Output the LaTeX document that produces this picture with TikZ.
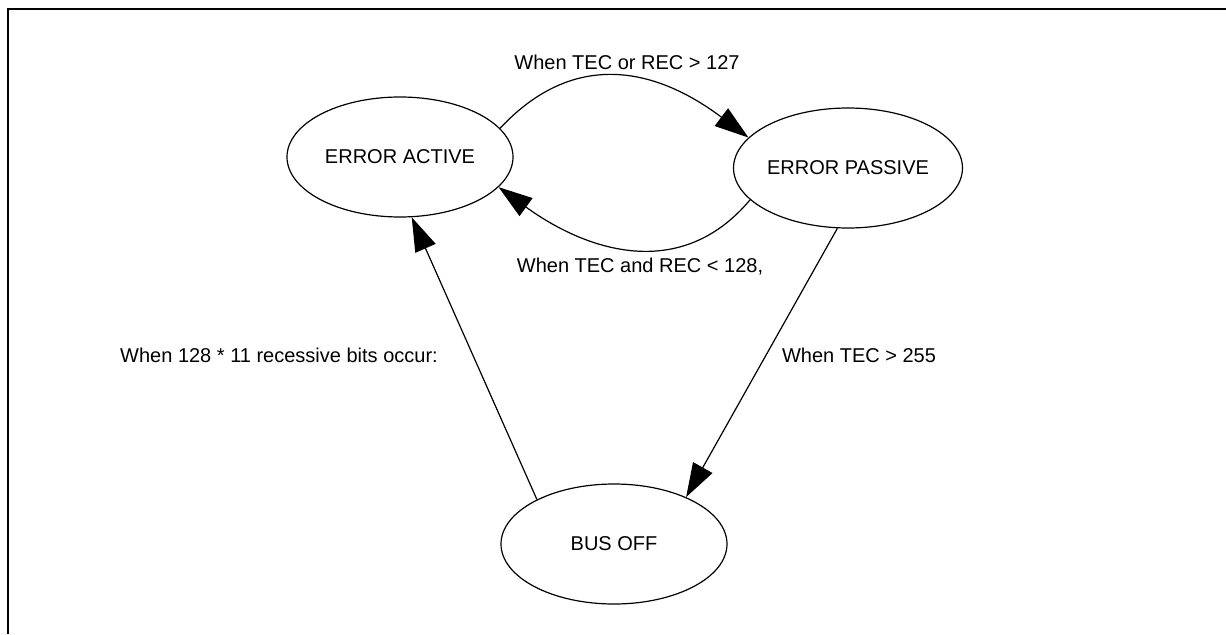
\documentclass[tikz,border=0pt]{standalone}
\usepackage{fontspec}
\setmainfont{Liberation Sans}
\usetikzlibrary{arrows.meta,shapes.geometric}

\begin{document}
\begin{tikzpicture}[x=0.5pt,y=0.5pt,
  state/.style={draw,ellipse,line width=0.6pt,minimum width=113pt,minimum height=60pt,inner sep=0pt,font=\fontsize{10}{12}\selectfont},
  trans/.style={line width=0.6pt,-{Triangle[length=17pt,width=11pt]}},
  lbl/.style={font=\fontsize{10}{12}\selectfont}]
 \useasboundingbox (0,0) rectangle (1226,634);
 \draw[line width=1pt] (8,0) -- (8,625.5) -- (1226,625.5);
 % states
 \node[state] (active) at (400,477) {ERROR ACTIVE};
 \node[state] (passive) at (848,466) {ERROR PASSIVE};
 \node[state] (busoff) at (614,90) {BUS OFF};
 % transitions
 \draw[trans] (active.16) to[out=47,in=143,looseness=1.15] (passive.163);
 \draw[trans] (passive.198) to[out=230,in=-36,looseness=1.1] (active.-17);
 \draw[trans] (passive.-100) -- (busoff.33);
 \draw[trans] (busoff.150) -- (active.-79);
 % labels
 \node[lbl] (up) at (627,572) {When TEC or REC > 127};
 \node[lbl] (down) at (640,367) {When TEC and REC < 128,};
 \node[lbl] (recover) at (279,279) {When 128 * 11 recessive bits occur:};
 \node[lbl] (off) at (859,279) {When TEC > 255};
\end{tikzpicture}
\end{document}
